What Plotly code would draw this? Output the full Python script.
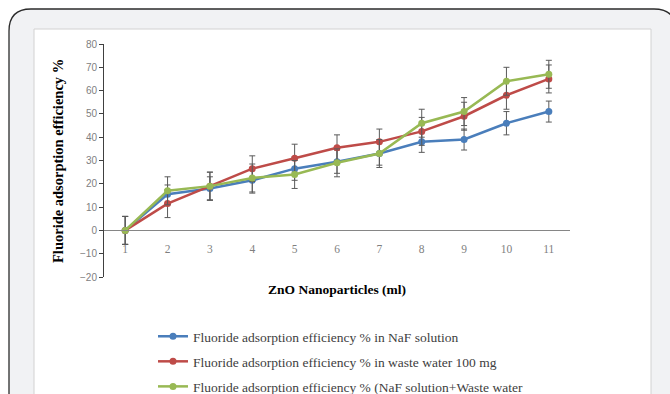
import plotly.graph_objects as go

# ---- data ----
x_labels = ["1", "2", "3", "4", "5", "6", "7", "8", "9", "10", "11"]
naf_values = [0, 15.5, 18, 21.5, 26.5, 29.5, 33, 38, 39, 46, 51]
waste_values = [0, 11.5, 19, 26.5, 31, 35.5, 38, 42.5, 49, 58, 65]
mix_values = [0, 17, 19, 22.5, 24, 29, 33, 46, 51, 64, 67]
naf_err = [6, 4, 5, 5.5, 5, 5, 5, 4.5, 4.5, 5, 4.5]
waste_err = [6, 6, 6, 5.5, 6, 5.5, 5.5, 6, 6, 6, 6]
mix_err = [6, 6, 6, 6, 6, 6, 6, 6, 6, 6, 6]
series_names = [
    "Fluoride adsorption efficiency % in NaF solution",
    "Fluoride adsorption efficiency % in waste water 100 mg",
    "Fluoride adsorption efficiency % (NaF solution+Waste water",
]
colors = ["#4a7ebb", "#be4b48", "#98b954"]
y_ticks = list(range(-20, 90, 10))

# ---- layout geometry (pixels) ----
FW, FH = 670, 394
L, R, T, B = 104, 570, 44, 277
W, H = R - L, B - T


def px_x(p):
    return (p - L) / W


def px_y(p):
    return (B - p) / H


xs = list(range(1, len(x_labels) + 1))

fig = go.Figure()
for name, vals, errs, col in zip(series_names, [naf_values, waste_values, mix_values],
                                 [naf_err, waste_err, mix_err], colors):
    fig.add_trace(go.Scatter(
        x=xs, y=vals, name=name, mode="lines+markers",
        legendgroup=name,
        line=dict(color=col, width=2.5),
        marker=dict(color=col, size=7, symbol="circle"),
        error_y=dict(type="data", array=errs, visible=True, color="#5a5a5a",
                     thickness=1, width=3),
    ))

# outer rounded frame
x0, x1, y0, y1, r = 9, 676, 9, 430, 22
path = (
    f"M {px_x(x0 + r)},{px_y(y0)} L {px_x(x1 - r)},{px_y(y0)} "
    f"Q {px_x(x1)},{px_y(y0)} {px_x(x1)},{px_y(y0 + r)} "
    f"L {px_x(x1)},{px_y(y1)} L {px_x(x0)},{px_y(y1)} "
    f"L {px_x(x0)},{px_y(y0 + r)} Q {px_x(x0)},{px_y(y0)} {px_x(x0 + r)},{px_y(y0)} Z"
)
shapes = [
    dict(type="path", xref="paper", yref="paper", path=path, layer="below",
         fillcolor="#f1f2f4", line=dict(color="#2b2b2b", width=1.3)),
    dict(type="rect", xref="paper", yref="paper", layer="below",
         x0=px_x(34), x1=px_x(651), y0=px_y(29), y1=px_y(430),
         fillcolor="#ffffff", line=dict(color="#d2d2d2", width=1)),
]

annotations = [
    dict(text="<b>Fluoride adsorption efficiency %</b>", xref="paper", yref="paper",
         x=px_x(58), y=px_y(161), textangle=-90, showarrow=False,
         xanchor="center", yanchor="middle",
         font=dict(family="Liberation Serif", size=14.5, color="#000000")),
    dict(text="<b>ZnO Nanoparticles (ml)</b>", xref="paper", yref="paper",
         x=px_x(337), y=px_y(289), showarrow=False,
         xanchor="center", yanchor="middle",
         font=dict(family="Liberation Serif", size=13.5, color="#000000")),
]

fig.update_layout(
    width=FW, height=FH,
    margin=dict(l=L, r=FW - R, t=T, b=FH - B, autoexpand=False),
    paper_bgcolor="#ffffff",
    plot_bgcolor="rgba(0,0,0,0)",
    shapes=shapes,
    annotations=annotations,
    showlegend=True,
    legend=dict(
        x=px_x(153), y=px_y(321), xanchor="left", yanchor="top",
        orientation="v", traceorder="grouped", tracegroupgap=4.5,
        itemwidth=30, bgcolor="rgba(0,0,0,0)",
        font=dict(family="Liberation Serif", size=13.5, color="#404040"),
    ),
    xaxis=dict(
        range=[0.5, 11.5], tickmode="array", tickvals=xs, ticktext=x_labels,
        anchor="free", position=0.2, showline=True, linecolor="#868686", linewidth=1,
        showgrid=False, zeroline=False, ticks="", ticklabelstandoff=8,
        tickfont=dict(family="Liberation Serif", size=11.5, color="#7f7f7f"),
    ),
    yaxis=dict(
        range=[-20, 80], tickmode="array", tickvals=y_ticks,
        showline=True, linecolor="#404040", linewidth=1,
        ticks="outside", ticklen=4, tickcolor="#404040",
        showgrid=False, zeroline=False,
        tickfont=dict(family="Liberation Sans", size=10, color="#808080"),
    ),
)

fig.write_html("out.html")
